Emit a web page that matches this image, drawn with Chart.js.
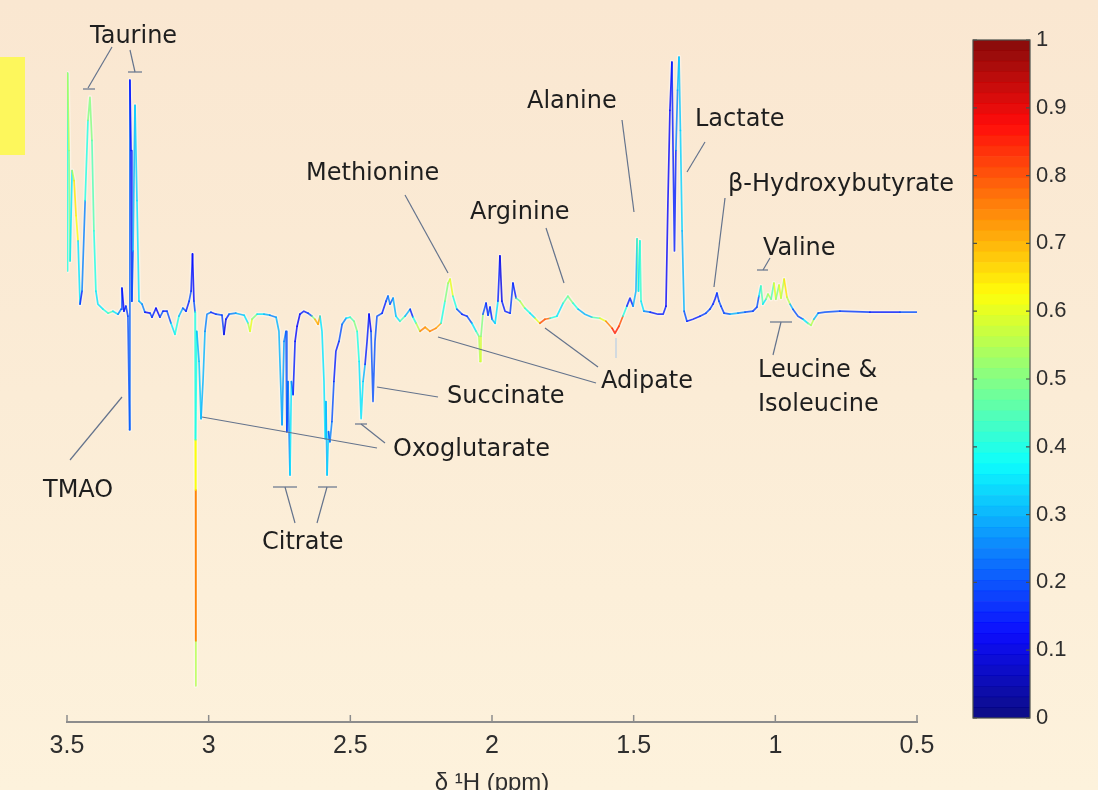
<!DOCTYPE html>
<html>
<head>
<meta charset="utf-8">
<script src="https://cdn.jsdelivr.net/npm/chart.js@4.4.1/dist/chart.umd.min.js"></script>
<style>
  html, body { margin: 0; padding: 0; }
  body {
    width: 1098px; height: 790px; overflow: hidden; position: relative;
    background: linear-gradient(180deg, #fae7d1 0%, #fbecd6 50%, #fdf2dc 100%);
  }
  #marker { position: absolute; left: 0; top: 57px; width: 25px; height: 98px; background: #fdf75c; }
  #specBox { position: absolute; left: 0; top: 0; width: 960px; height: 795px; }
  #cbarBox { position: absolute; left: 940px; top: 0; width: 158px; height: 790px; }
</style>
</head>
<body>
<div id="marker"></div>
<div id="specBox"><canvas id="spec"></canvas></div>
<div id="cbarBox"><canvas id="cbar"></canvas></div>
<script>
// chemical shift (ppm)
const shiftPpm = [
  3.500, 3.498, 3.493, 3.489, 3.482, 3.475, 3.468, 3.461, 3.454, 3.447,
  3.436, 3.426, 3.419, 3.412, 3.405, 3.398, 3.391, 3.373, 3.355, 3.338,
  3.320, 3.309, 3.306, 3.299, 3.292, 3.285, 3.279, 3.278, 3.274, 3.271,
  3.267, 3.260, 3.253, 3.246, 3.235, 3.225, 3.207, 3.200, 3.186, 3.172,
  3.161, 3.147, 3.133, 3.119, 3.105, 3.091, 3.080, 3.069, 3.062, 3.057,
  3.052, 3.048, 3.047, 3.046, 3.0455, 3.045, 3.0452, 3.0455, 3.046, 3.042,
  3.034, 3.027,
  3.020, 3.013, 3.006, 2.992, 2.974, 2.953, 2.946, 2.939, 2.928, 2.904,
  2.875, 2.861, 2.854, 2.847, 2.829, 2.805, 2.784, 2.762, 2.752, 2.741,
  2.734, 2.727, 2.724, 2.720, 2.713, 2.708, 2.702, 2.695, 2.688, 2.678,
  2.664, 2.649, 2.635, 2.625, 2.614, 2.607, 2.600, 2.593, 2.589, 2.586,
  2.582, 2.577, 2.572, 2.565, 2.558, 2.551, 2.540, 2.529, 2.515, 2.501,
  2.487, 2.476, 2.469, 2.462, 2.455, 2.448, 2.441, 2.434, 2.427, 2.420,
  2.413, 2.406, 2.388, 2.374, 2.367, 2.360, 2.349, 2.339, 2.325, 2.307,
  2.289, 2.279, 2.268, 2.254, 2.236, 2.219, 2.198, 2.180, 2.166, 2.155,
  2.148, 2.138, 2.124, 2.106, 2.088, 2.071, 2.056, 2.046, 2.042, 2.039,
  2.032, 2.021, 2.014, 2.007, 2.000, 1.989, 1.979, 1.972, 1.965, 1.954,
  1.936, 1.926, 1.915, 1.901, 1.884, 1.866, 1.848, 1.831, 1.813, 1.795,
  1.771, 1.749, 1.732, 1.714, 1.696, 1.672, 1.647, 1.619, 1.598, 1.576,
  1.566, 1.552, 1.538, 1.524, 1.513, 1.502, 1.492, 1.488, 1.483, 1.478,
  1.474, 1.464, 1.442, 1.414, 1.396, 1.386, 1.379, 1.372, 1.365, 1.361,
  1.356, 1.351, 1.345, 1.340, 1.335, 1.329, 1.322, 1.312, 1.291, 1.266,
  1.245, 1.231, 1.220, 1.213, 1.206, 1.199, 1.192, 1.181, 1.160, 1.132,
  1.107, 1.079, 1.065, 1.058, 1.051, 1.044, 1.033, 1.026, 1.015, 1.005,
  0.998, 0.987, 0.980, 0.969, 0.959, 0.948, 0.938, 0.920, 0.902, 0.885,
  0.874, 0.864, 0.849, 0.825, 0.772, 0.666, 0.560, 0.500
];

// loading intensity (arbitrary units)
const intensity = [
  0.41, 2.38, 1.61, 0.51, 1.41, 1.31, 0.96, 0.71, 0.08, 0.21,
  1.11, 1.91, 2.14, 1.71, 0.81, 0.21, 0.08, 0.03, -0.01, 0.01,
  -0.02, 0.03, 0.24, 0.01, 0.06, -0.04, -1.17, 2.31, 1.61, 0.11,
  0.61, 2.06, 1.11, 0.11, 0.08, 0.00, -0.01, -0.05, 0.04, -0.05,
  0.01, 0.01, -0.11, -0.22, -0.04, 0.04, 0.01, 0.11, 0.21, 0.58,
  0.11, 0.00, -1.27, -1.77, -3.27, -3.72, -3.27, -1.77, -1.27, -0.19,
  -0.49, -1.06,
  -0.69, -0.19, -0.02, 0.00, -0.02, -0.03, -0.22, -0.07, -0.02, -0.01,
  -0.03, -0.11, -0.19, -0.07, -0.02, -0.02, -0.03, -0.05, -0.19, -1.12,
  -0.29, -0.19, -1.19, -0.69, -1.62, -0.69, -0.82, -0.29, -0.14, -0.02,
  0.01, -0.01, -0.04, -0.07, -0.12, -0.04, -0.19, -0.69, -1.26, -0.89,
  -1.62, -1.19, -1.29, -1.09, -0.69, -0.39, -0.29, -0.12, -0.06, -0.05,
  -0.09, -0.19, -0.49, -1.06, -0.69, -0.52, -0.29, -0.02, -0.19, -0.89,
  -0.29, -0.04, -0.01, 0.11, 0.16, 0.08, 0.14, -0.04, -0.09, -0.04,
  0.03, -0.05, -0.11, -0.19, -0.15, -0.19, -0.16, -0.11, 0.11, 0.29,
  0.33, 0.16, 0.03, -0.02, -0.04, -0.11, -0.19, -0.24, -0.49, -0.24,
  -0.02, 0.09, -0.03, 0.05, -0.07, -0.11, 0.11, 0.56, 0.11, 0.01,
  -0.01, 0.29, 0.14, 0.11, 0.04, -0.01, -0.06, -0.11, -0.07, -0.06,
  -0.04, 0.09, 0.16, 0.09, 0.03, -0.02, -0.05, -0.06, -0.09, -0.16,
  -0.21, -0.14, -0.04, 0.06, 0.14, 0.06, 0.21, 0.73, 0.21, 0.71,
  0.11, 0.01, 0.00, -0.02, -0.02, 0.06, 1.11, 2.01, 2.49, 1.61,
  0.61, 1.61, 2.21, 2.54, 1.81, 0.81, 0.01, -0.09, -0.07, -0.04,
  -0.01, 0.03, 0.08, 0.13, 0.19, 0.11, 0.06, -0.01, -0.02, -0.01,
  0.00, 0.01, 0.05, 0.16, 0.26, 0.08, 0.13, 0.18, 0.13, 0.29,
  0.13, 0.27, 0.14, 0.33, 0.15, 0.08, 0.03, -0.04, -0.07, -0.11,
  -0.13, -0.07, -0.01, 0.00, 0.01, 0.00, 0.00, 0.00
];

// correlation (colour) of the segment starting at each point
const correlation = [
  0.40, 0.55, 0.50, 0.35, 0.55, 0.65, 0.62, 0.35, 0.15, 0.25,
  0.40, 0.50, 0.50, 0.45, 0.40, 0.35, 0.35, 0.40, 0.45, 0.35,
  0.25, 0.20, 0.12, 0.15, 0.18, 0.20, 0.22, 0.13, 0.15, 0.20,
  0.30, 0.33, 0.35, 0.30, 0.25, 0.12, 0.20, 0.15, 0.12, 0.20,
  0.15, 0.20, 0.35, 0.40, 0.30, 0.20, 0.15, 0.20, 0.15, 0.13,
  0.20, 0.40, 0.62, 0.75, 0.55, 0.55, 0.75, 0.62, 0.40, 0.30,
  0.32, 0.30,
  0.30, 0.25, 0.25, 0.15, 0.20, 0.18, 0.10, 0.15, 0.25, 0.30,
  0.35, 0.55, 0.60, 0.50, 0.35, 0.30, 0.25, 0.30, 0.30, 0.28,
  0.25, 0.20, 0.18, 0.25, 0.35, 0.25, 0.15, 0.13, 0.12, 0.15,
  0.15, 0.20, 0.50, 0.70, 0.72, 0.35, 0.35, 0.35, 0.33, 0.30,
  0.33, 0.20, 0.25, 0.20, 0.15, 0.15, 0.20, 0.25, 0.35, 0.45,
  0.50, 0.40, 0.35, 0.35, 0.30, 0.15, 0.15, 0.12, 0.20, 0.20,
  0.20, 0.20, 0.15, 0.20, 0.25, 0.20, 0.30, 0.35, 0.45, 0.30,
  0.15, 0.40, 0.55, 0.75, 0.72, 0.75, 0.72, 0.40, 0.50, 0.55,
  0.60, 0.40, 0.20, 0.15, 0.20, 0.35, 0.45, 0.55, 0.58, 0.50,
  0.20, 0.15, 0.20, 0.15, 0.30, 0.35, 0.15, 0.10, 0.15, 0.15,
  0.18, 0.15, 0.45, 0.55, 0.40, 0.35, 0.60, 0.80, 0.78, 0.40,
  0.35, 0.45, 0.50, 0.40, 0.30, 0.30, 0.45, 0.60, 0.75, 0.85,
  0.85, 0.80, 0.40, 0.15, 0.15, 0.30, 0.30, 0.45, 0.35, 0.42,
  0.35, 0.25, 0.15, 0.15, 0.15, 0.12, 0.12, 0.13, 0.15, 0.15,
  0.15, 0.25, 0.30, 0.32, 0.33, 0.30, 0.20, 0.15, 0.15, 0.18,
  0.20, 0.18, 0.15, 0.15, 0.18, 0.20, 0.18, 0.20, 0.30, 0.25,
  0.20, 0.18, 0.20, 0.35, 0.45, 0.35, 0.50, 0.55, 0.45, 0.60,
  0.50, 0.60, 0.55, 0.65, 0.55, 0.30, 0.20, 0.20, 0.35, 0.50,
  0.55, 0.30, 0.20, 0.20, 0.18, 0.15, 0.20, 0.20
];

const xTicks = [3.5, 3, 2.5, 2, 1.5, 1, 0.5];
const cbarTicks = [0, 0.1, 0.2, 0.3, 0.4, 0.5, 0.6, 0.7, 0.8, 0.9, 1];
const cbarLevels = 64;

// metabolite labels: text, left x, middle y
const labels = [
  ['Taurine', 90, 37], ['Methionine', 306, 174], ['Arginine', 470, 213],
  ['Alanine', 527, 102], ['Lactate', 695, 120], ['β-Hydroxybutyrate', 728, 185],
  ['Valine', 763, 249], ['Leucine &', 758, 371], ['Isoleucine', 758, 405],
  ['Adipate', 601, 382], ['Succinate', 447, 397], ['Oxoglutarate', 393, 450],
  ['TMAO', 43, 491], ['Citrate', 262, 543]
];
// leader lines x1,y1,x2,y2
const leaders = [
  [112, 47, 88, 88], [83, 89, 95, 89], [130, 50, 135, 72], [128, 72, 142, 72],
  [70, 460, 122, 397],
  [273, 487, 297, 487], [318, 487, 337, 487], [285, 487, 295, 523], [327, 487, 317, 523],
  [202, 417, 377, 448], [355, 424, 367, 424], [361, 424, 385, 443],
  [377, 387, 438, 397],
  [405, 195, 448, 273], [546, 228, 564, 283], [622, 120, 634, 212],
  [705, 142, 687, 172], [725, 198, 714, 287],
  [770, 258, 763, 270], [757, 270, 768, 270],
  [770, 322, 792, 322], [781, 322, 773, 355],
  [438, 337, 596, 383], [545, 328, 598, 367]
];

function clamp(v) { return Math.max(0, Math.min(1, v)); }
function jet(v, a) {
  const r = clamp(1.5 - Math.abs(4 * v - 3));
  const g = clamp(1.5 - Math.abs(4 * v - 2));
  const b = clamp(1.5 - Math.abs(4 * v - 1));
  return `rgba(${Math.round(r * 255)},${Math.round(g * 255)},${Math.round(b * 255)},${a})`;
}

const annotate = {
  id: 'annotate',
  afterDraw(chart) {
    const ctx = chart.ctx;
    ctx.save();
    ctx.strokeStyle = '#64738c';
    ctx.lineWidth = 1.2;
    leaders.forEach(([x1, y1, x2, y2]) => {
      ctx.beginPath(); ctx.moveTo(x1, y1); ctx.lineTo(x2, y2); ctx.stroke();
    });
    ctx.strokeStyle = '#b9cfe6';
    ctx.beginPath(); ctx.moveTo(616, 338); ctx.lineTo(616, 358); ctx.stroke();
    ctx.fillStyle = '#1e1e1e';
    ctx.font = '24px "DejaVu Sans"';
    ctx.textBaseline = 'middle';
    ctx.textAlign = 'left';
    labels.forEach(([t, x, y]) => ctx.fillText(t, x, y));
    ctx.restore();
  }
};

// small upward tick marks on the shift axis
const axisTicks = {
  id: 'axisTicks',
  afterDraw(chart) {
    const sx = chart.scales.x, ctx = chart.ctx;
    ctx.save();
    ctx.strokeStyle = '#8c8c8c';
    ctx.lineWidth = 1.5;
    xTicks.forEach(v => {
      const px = sx.getPixelForValue(v);
      ctx.beginPath(); ctx.moveTo(px, sx.top); ctx.lineTo(px, sx.top - 7); ctx.stroke();
    });
    ctx.restore();
  }
};

const points = shiftPpm.map((x, i) => ({ x, y: intensity[i] }));

new Chart(document.getElementById('spec'), {
  type: 'line',
  data: {
    datasets: [{
      data: points,
      borderWidth: 1.7,
      borderColor: '#3050d0',
      borderJoinStyle: 'round',
      borderCapStyle: 'round',
      pointRadius: 0,
      tension: 0,
      segment: {
        borderColor: c => jet(correlation[c.p0DataIndex], 0.8)
      }
    }, {
      // pale halo under the trace
      data: points,
      borderWidth: 4.5,
      borderColor: 'rgba(255,255,255,0.4)',
      borderJoinStyle: 'round',
      borderCapStyle: 'round',
      pointRadius: 0,
      tension: 0
    }]
  },
  options: {
    responsive: true,
    maintainAspectRatio: false,
    animation: false,
    layout: { padding: { left: 67, right: 43, top: 40, bottom: 0 } },
    plugins: { legend: { display: false }, tooltip: { enabled: false } },
    scales: {
      x: {
        type: 'linear', reverse: true, min: 0.5, max: 3.5,
        afterBuildTicks: s => { s.ticks = xTicks.map(v => ({ value: v })); },
        grid: { display: false, drawTicks: false },
        border: { display: true, color: '#8c8c8c', width: 2 },
        ticks: {
          padding: 12, color: '#2e2e2e',
          font: { family: '"Liberation Sans Narrow", "Liberation Sans", Arial', size: 25, lineHeight: 1 },
          callback: v => String(v)
        },
        title: {
          display: true, text: 'δ ¹H (ppm)', color: '#2e2e2e',
          font: { family: '"Liberation Sans Narrow", "Liberation Sans", Arial', size: 24, lineHeight: 1 },
          padding: { top: 0, bottom: 0 }
        }
      },
      y: { display: false, min: -4.08, max: 2.71 }
    }
  },
  plugins: [annotate, axisTicks]
});

// colour bar frame and inward ticks
const cbarFrame = {
  id: 'cbarFrame',
  afterDraw(chart) {
    const a = chart.chartArea, sy = chart.scales.y, ctx = chart.ctx;
    ctx.save();
    ctx.strokeStyle = '#4a4f4a';
    ctx.lineWidth = 1.2;
    ctx.strokeRect(a.left, a.top, a.right - a.left, a.bottom - a.top);
    cbarTicks.forEach(v => {
      const py = sy.getPixelForValue(v);
      ctx.beginPath();
      ctx.moveTo(a.left, py); ctx.lineTo(a.left + 4, py);
      ctx.moveTo(a.right, py); ctx.lineTo(a.right - 4, py);
      ctx.stroke();
    });
    ctx.restore();
  }
};

const cbarSets = [];
for (let i = 0; i < cbarLevels; i++) {
  cbarSets.push({
    data: [1 / cbarLevels],
    backgroundColor: jet((i + 0.5) / cbarLevels, 0.95),
    borderWidth: 0,
    barPercentage: 1,
    categoryPercentage: 1
  });
}

new Chart(document.getElementById('cbar'), {
  type: 'bar',
  data: { labels: [''], datasets: cbarSets },
  options: {
    responsive: true,
    maintainAspectRatio: false,
    animation: false,
    layout: { padding: { left: 33, right: 18, top: 40, bottom: 72 } },
    plugins: { legend: { display: false }, tooltip: { enabled: false } },
    scales: {
      x: { stacked: true, display: false },
      y: {
        stacked: true, position: 'right', min: 0, max: 1,
        afterBuildTicks: s => { s.ticks = cbarTicks.map(v => ({ value: v })); },
        afterFit: s => { s.width = 50; },
        grid: { display: false, drawTicks: false },
        border: { display: false },
        ticks: {
          padding: 6, color: '#2e2e2e',
          font: { family: '"Liberation Sans", Arial', size: 22 },
          callback: v => String(v)
        }
      }
    }
  },
  plugins: [cbarFrame]
});
</script>
</body>
</html>
